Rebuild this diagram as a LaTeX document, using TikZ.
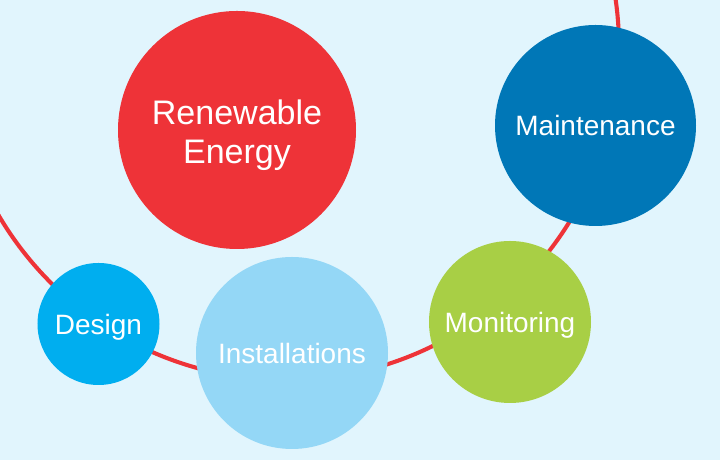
\documentclass[tikz,border=0pt]{standalone}
\usepackage{fontspec}
\setmainfont{Liberation Sans}
\definecolor{bgblue}{HTML}{E1F5FD}
\definecolor{loopred}{HTML}{EE3338}
\definecolor{energyred}{HTML}{EE3338}
\definecolor{maintblue}{HTML}{0077B7}
\definecolor{designblue}{HTML}{00AEEF}
\definecolor{installblue}{HTML}{94D7F6}
\definecolor{monitorgreen}{HTML}{A8CF45}
\tikzset{bubble/.style={circle,inner sep=0pt,text=white,font=\fontsize{19.9}{24}\selectfont,text height=14.25pt,text depth=0pt}}

\begin{document}
\begin{tikzpicture}
\fill[bgblue] (0,0) rectangle (18,11.5);
\useasboundingbox (0,0) rectangle (18,11.5);
% the red loop behind the bubbles
\begin{scope}
\clip (0,0) rectangle (18,11.5);
\draw[loopred,line width=2.9pt] (7.15,10.325) circle (8.325);
\end{scope}
\node[circle,inner sep=0pt,text=white,fill=energyred,minimum size=5.95cm,align=center,font=\fontsize{24.2}{27.7}\selectfont,text height=52pt] (energy) at (5.925,8.25) {Renewable\\Energy};
\node[bubble,fill=maintblue,minimum size=5.025cm] (maint) at (14.8875,8.3625) {Maintenance};
\node[bubble,fill=designblue,minimum size=3.05cm] (design) at (2.4625,3.4) {Design};
\node[bubble,fill=installblue,minimum size=4.8cm] (install) at (7.3,2.675) {Installations};
\node[bubble,fill=monitorgreen,minimum size=4.05cm] (monitor) at (12.75,3.45) {Monitoring};
\end{tikzpicture}
\end{document}
